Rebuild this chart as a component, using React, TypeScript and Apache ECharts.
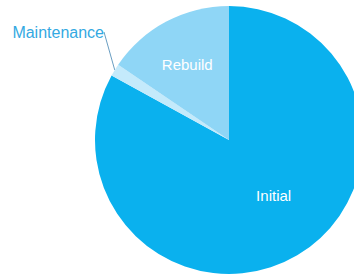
import React, { useEffect, useRef } from "react";
import * as echarts from "echarts";

const categories = ["Initial", "Maintenance", "Rebuild"];
const values = [83, 1.5, 15.5];
const colors = ["#0ab1ee", "#c4eafb", "#8fd6f6"];

export default function App() {
  const ref = useRef<HTMLDivElement>(null);
  useEffect(() => {
    const chart = echarts.init(ref.current!, undefined, { renderer: "svg" });
    const font = "'Liberation Sans', Arial, sans-serif";
    chart.setOption({
      animation: false,
      series: [
        {
          type: "pie",
          center: [229, 140],
          radius: 134,
          startAngle: 90,
          clockwise: true,
          avoidLabelOverlap: false,
          label: {
            show: true,
            position: "inside",
            color: "#ffffff",
            fontSize: 15,
            fontFamily: font,
            formatter: "{b}",
          },
          labelLine: { show: false },
          labelLayout: (p: any) => {
            if (p.dataIndex === 0) return { dx: 9, dy: -5 };
            if (p.dataIndex === 2) return { dx: -9, dy: -14 };
            return { x: 104, y: 32, align: "right", verticalAlign: "middle" };
          },
          data: categories.map((c, i) => ({
            name: c,
            value: values[i],
            itemStyle: { color: colors[i] },
            ...(i === 1
              ? {
                  label: { position: "outside", color: "#33a9e2", fontSize: 16, fontFamily: font },
                  labelLine: { show: true, length: 20, length2: 0, lineStyle: { color: "#6a9ec2", width: 1 } },
                }
              : {}),
          })),
        },
      ],
    });
    return () => chart.dispose();
  }, []);
  return (
    <div
      ref={ref}
      style={{ position: "fixed", left: 0, top: 0, width: 354, height: 275, background: "#fff" }}
    />
  );
}
